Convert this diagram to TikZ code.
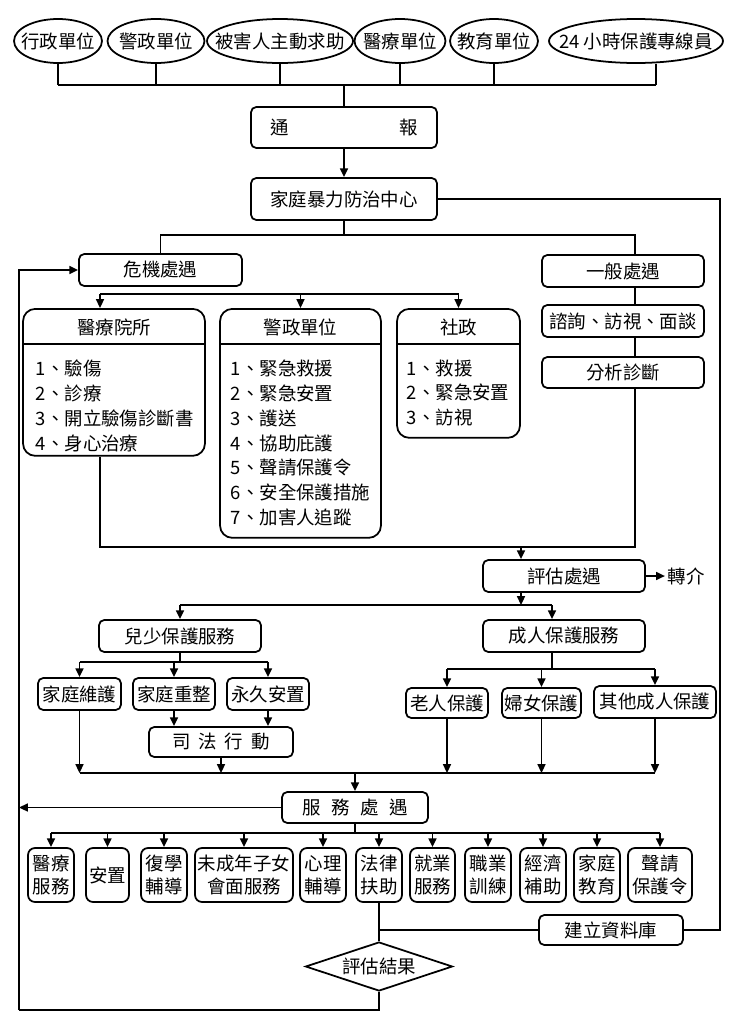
\documentclass[tikz,border=0pt]{standalone}
\usepackage{fontspec}
\setmainfont{Noto Sans CJK TC}
\usetikzlibrary{shapes.geometric,arrows.meta}

\begin{document}
\begin{tikzpicture}[x=0.02cm, y=-0.02cm, line width=1pt,
        font=\fontsize{10.5}{14.2}\selectfont,
        >={Triangle[length=5pt,width=4.5pt]},
        unit/.style={draw, ellipse, inner sep=0pt, minimum height=0.88cm, label=center:{#1}},
        box/.style={draw, rounded corners=3pt, inner sep=1pt, minimum height=0.64cm},
        listbox/.style={draw, rounded corners=7pt, inner sep=0pt, anchor=north},
        svc/.style={draw, rounded corners=4pt, inner sep=0pt, align=center,
            minimum height=1.08cm, font=\fontsize{10.5}{13}\selectfont}]

        \useasboundingbox (0,0) rectangle (732,1028);

        % draw the reporting units
        \node[unit=行政單位, minimum width=1.76cm] (xz) at (58,41) {};
        \node[unit=警政單位, minimum width=1.94cm] (jz) at (156,41) {};
        \node[unit=被害人主動求助, minimum width=2.92cm] (bh) at (280,41) {};
        \node[unit=醫療單位, minimum width=1.82cm] (yldw) at (400,41) {};
        \node[unit=教育單位, minimum width=1.76cm] (jy) at (494,41) {};
        \node[unit=24 小時保護專線員, minimum width=3.48cm] (zxy) at (636,41) {};

        % draw the center boxes
        \node[box, minimum width=3.72cm, minimum height=0.82cm] (tb) at (344,127.5) {\makebox[2.95cm]{通\hfill 報}};
        \node[box, minimum width=3.72cm, minimum height=0.84cm] (jtzx) at (344,199) {家庭暴力防治中心};
        \node[box, minimum width=3.26cm] (wj) at (160.5,270) {危機處遇};
        \node[box, minimum width=3.24cm] (yb) at (623,271) {一般處遇};
        \node[box, minimum width=3.24cm] (zf) at (623,321) {諮詢、訪視、面談};
        \node[box, minimum width=3.24cm, minimum height=0.62cm] (fx) at (623,372.5) {分析診斷};

        % draw the three list boxes
        \node[listbox, minimum width=3.64cm, minimum height=2.94cm] (yyys) at (114,308) {};
        \node[listbox, minimum width=3.22cm, minimum height=4.58cm] (jzdw) at (300.5,308) {};
        \node[listbox, minimum width=2.46cm, minimum height=2.58cm] (sz) at (458.5,308) {};
        \draw (yyys.west |- 0,344) -- (yyys.east |- 0,344);
        \draw (jzdw.west |- 0,344) -- (jzdw.east |- 0,344);
        \draw (sz.west |- 0,344) -- (sz.east |- 0,344);
        \node (yyysT) at (114,327) {醫療院所};
        \node (jzdwT) at (300.5,327) {警政單位};
        \node (szT) at (458.5,327) {社政};
        \node[anchor=west, align=left, inner sep=0pt] (yyysL) at (35,405.5)
            {1、驗傷\\2、診療\\3、開立驗傷診斷書\\4、身心治療};
        \node[anchor=west, align=left, inner sep=0pt] (jzdwL) at (230,443)
            {1、緊急救援\\2、緊急安置\\3、護送\\4、協助庇護\\5、聲請保護令\\6、安全保護措施\\7、加害人追蹤};
        \node[anchor=west, align=left, inner sep=0pt] (szL) at (406,393)
            {1、救援\\2、緊急安置\\3、訪視};

        % draw the assessment part
        \node[box, minimum width=3.24cm] (pg) at (564,576) {評估處遇};
        \node[inner sep=1pt] (zj) at (686,576) {轉介};
        \node[box, minimum width=3.24cm] (es) at (180,636) {兒少保護服務};
        \node[box, minimum width=3.24cm] (cr) at (564,636) {成人保護服務};
        \node[box, minimum width=1.66cm, inner sep=0pt] (jw) at (79.5,694) {家庭維護};
        \node[box, minimum width=1.64cm, inner sep=0pt] (jc) at (174,694) {家庭重整};
        \node[box, minimum width=1.64cm, inner sep=0pt] (yj) at (268,694) {永久安置};
        \node[box, minimum width=2.88cm, minimum height=0.6cm] (sf) at (221,742)
            {司\hspace{4.5pt}法\hspace{4.5pt}行\hspace{4.5pt}動};
        \node[box, minimum width=1.64cm, minimum height=0.6cm, inner sep=0pt] (lr) at (447,703) {老人保護};
        \node[box, minimum width=1.58cm, minimum height=0.6cm, inner sep=0pt] (fn) at (541.5,703) {婦女保護};
        \node[box, minimum width=2.44cm, inner sep=0pt] (qt) at (655,702) {其他成人保護};

        % draw the services
        \node[box, minimum width=2.92cm, minimum height=0.62cm] (fw) at (355,807.5)
            {服\hspace{6pt}務\hspace{6pt}處\hspace{6pt}遇};
        \node[svc, minimum width=0.92cm] (s1) at (51,875) {醫療\\服務};
        \node[svc, minimum width=0.86cm] (s2) at (107.5,875) {安置};
        \node[svc, minimum width=0.92cm] (s3) at (164,875) {復學\\輔導};
        \node[svc, minimum width=1.96cm] (s4) at (244,875) {未成年子女\\會面服務};
        \node[svc, minimum width=0.92cm] (s5) at (323,875) {心理\\輔導};
        \node[svc, minimum width=0.92cm] (s6) at (379,875) {法律\\扶助};
        \node[svc, minimum width=0.90cm] (s7) at (432.5,875) {就業\\服務};
        \node[svc, minimum width=0.92cm] (s8) at (488,875) {職業\\訓練};
        \node[svc, minimum width=0.92cm] (s9) at (543,875) {經濟\\補助};
        \node[svc, minimum width=0.92cm] (s10) at (597,875) {家庭\\教育};
        \node[svc, minimum width=1.28cm] (s11) at (660,875) {聲請\\保護令};
        \node[box, minimum width=2.88cm, minimum height=0.6cm] (jl) at (611,930) {建立資料庫};
        \node[draw, diamond, aspect=3, inner sep=0pt, minimum width=2.94cm, minimum height=0.98cm]
            (pj) at (379,966.5) {評估結果};

        % draw the loop coordinates
        \coordinate (lp) at (19,1010);
        \coordinate (rp) at (720,199);

        % connect the reporting units
        \foreach \u in {xz,jz,bh,yldw,jy}
            \draw (\u.south) -- (\u.south |- 0,85);
        \draw ([xshift=0.4cm]zxy.south) -- ([xshift=0.4cm]zxy.south |- 0,85);
        \draw (xz.south |- 0,85) -- ([xshift=0.4cm]zxy.south |- 0,85);
        \draw (tb.north |- 0,85) -- (tb.north);
        \draw[->] (tb.south) -- (jtzx.north);

        % connect the center to both branches
        \draw (jtzx.south) -- (jtzx.south |- 0,235);
        \draw (wj.north) -- (wj.north |- 0,235) -- ([xshift=0.24cm]yb.north |- 0,235) -- ([xshift=0.24cm]yb.north);
        \draw (jtzx.east) -- (rp) -- (rp |- jl.east) -- (jl.east);

        % connect the crisis branch
        \draw ([xshift=-0.28cm]yyys.north |- 0,294) -- (sz.north |- 0,294);
        \draw[->] ([xshift=-0.28cm]yyys.north |- 0,294) -- ([xshift=-0.28cm]yyys.north);
        \draw[->] (jzdw.north |- 0,294) -- (jzdw.north);
        \draw[->] (sz.north |- 0,294) -- (sz.north);

        % connect the general branch
        \draw ([xshift=0.24cm]yb.south) -- ([xshift=0.24cm]zf.north);
        \draw ([xshift=0.24cm]zf.south) -- ([xshift=0.24cm]fx.north);
        \draw ([xshift=0.24cm]fx.south) -- ([xshift=0.24cm]fx.south |- 0,547)
            -- ([xshift=-0.28cm]yyys.south |- 0,547) -- ([xshift=-0.28cm]yyys.south);
        \draw[->] ([xshift=-0.86cm]pg.north |- 0,547) -- ([xshift=-0.86cm]pg.north);
        \draw[->] (pg.east) -- (zj.west);

        % connect the protection services
        \draw[->] ([xshift=-0.86cm]pg.south) -- ([xshift=-0.86cm]pg.south |- 0,605);
        \draw (es.north |- 0,605) -- ([xshift=-0.24cm]cr.north |- 0,605);
        \draw[->] (es.north |- 0,605) -- (es.north);
        \draw[->] ([xshift=-0.24cm]cr.north |- 0,605) -- ([xshift=-0.24cm]cr.north);
        \draw (es.south) -- (es.south |- 0,662);
        \draw (jw.north |- 0,662) -- (yj.north |- 0,662);
        \draw[->] (jw.north |- 0,662) -- (jw.north);
        \draw[->] (jc.north |- 0,662) -- (jc.north);
        \draw[->] (yj.north |- 0,662) -- (yj.north);
        \draw[->] (jc.south) -- (jc.south |- sf.north);
        \draw[->] (yj.south) -- (yj.south |- sf.north);
        \draw ([xshift=-0.24cm]cr.south) -- ([xshift=-0.24cm]cr.south |- 0,669);
        \draw (lr.north |- 0,669) -- (qt.north |- 0,669);
        \draw[->] (lr.north |- 0,669) -- (lr.north);
        \draw[->] (fn.north |- 0,669) -- (fn.north);
        \draw[->] (qt.north |- 0,669) -- (qt.north);

        % collect everything into the services
        \draw (jw.south |- 0,773) -- (qt.south |- 0,773);
        \draw[->] (jw.south) -- (jw.south |- 0,773);
        \draw[->] (sf.south) -- (sf.south |- 0,773);
        \draw[->] (lr.south) -- (lr.south |- 0,773);
        \draw[->] (fn.south) -- (fn.south |- 0,773);
        \draw[->] (qt.south) -- (qt.south |- 0,773);
        \draw[->] (fw.north |- 0,773) -- (fw.north);

        % draw the service arrows
        \draw (fw.south) -- (fw.south |- 0,833);
        \draw (s1.north |- 0,833) -- (s11.north |- 0,833);
        \foreach \s in {s1,s2,s3,s4,s5,s6,s7,s8,s9,s10,s11}
            \draw[->] (\s.north |- 0,833) -- (\s.north);

        % draw the evaluation and the loop back
        \draw (s6.south) -- (pj.north);
        \draw (jl.west) -- (jl.west -| pj.north);
        \draw (pj.south) -- (pj.south |- lp) -- (lp);
        \draw[->] (lp) -- (lp |- wj.west) -- (wj.west);
        \draw[->] (fw.west) -- (fw.west -| lp);
    \end{tikzpicture}
\end{document}
